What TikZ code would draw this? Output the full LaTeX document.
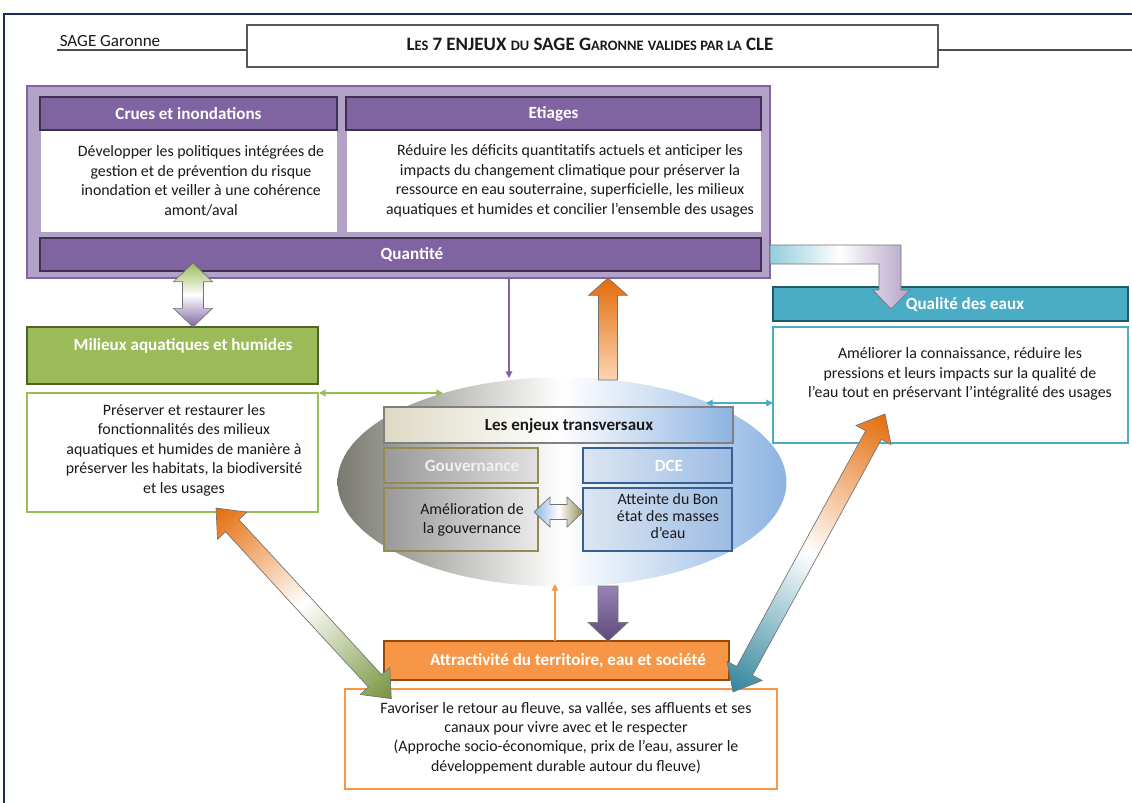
\documentclass[tikz,border=0pt]{standalone}
\usepackage{fontspec}
\setmainfont{Carlito}
\usetikzlibrary{calc,fit,shapes.geometric,arrows.meta}
\definecolor{frameblue}{HTML}{1F2A5C}
\definecolor{purp}{HTML}{8064A2}
\definecolor{purpdark}{HTML}{3F3151}
\definecolor{purplight}{HTML}{B3A2C7}
\definecolor{purpmid}{HTML}{5F497A}
\definecolor{grn}{HTML}{9BBB59}
\definecolor{grndark}{HTML}{4F6228}
\definecolor{grndeep}{HTML}{77933C}
\definecolor{tealq}{HTML}{4BACC6}
\definecolor{tealdark}{HTML}{215968}
\definecolor{tealdeep}{HTML}{31859C}
\definecolor{teallight}{HTML}{93CDDD}
\definecolor{orng}{HTML}{F79646}
\definecolor{orngdark}{HTML}{984807}
\definecolor{orngdeep}{HTML}{E46C0A}
\definecolor{peach}{HTML}{FBD4B4}
\definecolor{txtc}{HTML}{1A1A1A}
\definecolor{olv}{HTML}{948A54}
\definecolor{dceblue}{HTML}{376092}
\definecolor{ltblue}{HTML}{8DB3E2}
\definecolor{tanq}{HTML}{DDD9C3}
\definecolor{ellgray}{HTML}{7A7A72}
\definecolor{dcelight}{HTML}{DCE6F2}
\definecolor{dcemid}{HTML}{9DBCE3}
\newcommand\smc[1]{{\fontsize{10.8}{12}\selectfont #1}}
% double fat arrow: #1 A, #2 B, #3 shaft half, #4 head half, #5 head length, #6 style
\newcommand\fatdarrow[6]{%
  \coordinate (ha) at ($(#1)!#5!(#2)$);
  \coordinate (hb) at ($(#2)!#5!(#1)$);
  \path[#6] (#1) -- ($(ha)!#4!90:(#2)$) -- ($(ha)!#3!90:(#2)$) -- ($(hb)!#3!-90:(#1)$)
    -- ($(hb)!#4!-90:(#1)$) -- (#2) -- ($(hb)!#4!90:(#1)$) -- ($(hb)!#3!90:(#1)$)
    -- ($(ha)!#3!-90:(#2)$) -- ($(ha)!#4!-90:(#2)$) -- cycle;}
% single fat arrow from #1 (tail) to #2 (tip)
\newcommand\fatarrow[6]{%
  \coordinate (hb) at ($(#2)!#5!(#1)$);
  \path[#6] ($(#1)!#3!90:(#2)$) -- ($(hb)!#3!-90:(#1)$) -- ($(hb)!#4!-90:(#1)$) -- (#2)
    -- ($(hb)!#4!90:(#1)$) -- ($(hb)!#3!90:(#1)$) -- ($(#1)!#3!-90:(#2)$) -- cycle;}
\tikzset{
  bx/.style={rectangle, inner sep=0pt, outer sep=0pt},
  body/.style={font=\fontsize{11.9}{14.6}\selectfont, align=center, text=txtc, inner sep=0pt},
  hd/.style={font=\fontsize{12.8}{14}\selectfont\bfseries, text=white, inner sep=0pt},
  fatline/.style={draw=black!55, line width=0.5pt},
  thinarr/.style={line width=0.9pt, -{Triangle[length=5pt,width=5pt]}},
  thindarr/.style={line width=0.9pt, {Triangle[length=5pt,width=5pt]}-{Triangle[length=5pt,width=5pt]}},
}
\begin{document}
\begin{tikzpicture}[x=0.75pt,y=-0.75pt]
\useasboundingbox (0,0) rectangle (1132,803);
\fill[white] (0,0) rectangle (1132,803);
% page frame
\coordinate (pf1) at (4,803);
\coordinate (pf2) at (4,14);
\coordinate (pf3) at (1132,14);
\draw[frameblue, line width=1.6pt] (pf1) -- (pf2) -- (pf3);
% header
\node[bx, draw=black!65, line width=1pt, fit={(247,25) (938,67)}] (tbox) {};
\node[inner sep=0pt, font=\fontsize{14.2}{16}\selectfont\bfseries, text=txtc] (ttl) at (590,44)
  {L\smc{ES} 7 ENJEUX \smc{DU} SAGE G\smc{ARONNE} \smc{VALIDES PAR LA} CLE};
\node[inner sep=0pt, font=\fontsize{12.8}{14}\selectfont, text=txtc] (sage) at (110,41) {SAGE Garonne};
\coordinate (ul1) at (57,50);
\coordinate (ul2) at (1132,50);
\draw[black!70, line width=0.8pt] (ul1) -- (ul1 -| tbox.west);
\draw[black!70, line width=0.8pt] (ul2 -| tbox.east) -- (ul2);
% Quantite group
\node[bx, fill=purplight, draw=purp, line width=1.5pt, fit={(27,86) (770,278)}] (qframe) {};
\node[bx, fill=purp, draw=purpdark, line width=1.5pt, fit={(40,97) (337,130)}] (crueshd) {};
\node[hd] (crueshdt) at (crueshd.center) {Crues et inondations};
\node[bx, fill=white, fit={(41,131) (337,232)}] (cruesbd) {};
\node[body] (cruesbdt) at (201,181) {Développer les politiques intégrées de\\gestion et de prévention du risque\\inondation et veiller à une cohérence\\amont/aval};
\node[bx, fill=purp, draw=purpdark, line width=1.5pt, fit={(346,97) (761,130)}] (etiahd) {};
\node[hd] (etiahdt) at (etiahd.center) {Etiages};
\node[bx, fill=white, fit={(347,131) (761,232)}] (etiabd) {};
\node[body] (etiabdt) at (570,181) {Réduire les déficits quantitatifs actuels et anticiper les\\impacts du changement climatique pour préserver la\\ressource en eau souterraine, superficielle, les milieux\\aquatiques et humides et concilier l’ensemble des usages};
\node[bx, fill=purp, draw=purpdark, line width=1.5pt, fit={(40,238) (761,271)}] (quant) {};
\node[hd] (quantt) at (412,255) {Quantité};
% Milieux
\node[bx, fill=grn, draw=grndark, line width=1.5pt, fit={(27,327) (318,384)}] (milhd) {};
\node[hd] (milhdt) at (183,346) {Milieux aquatiques et humides};
\node[bx, fill=white, draw=grn, line width=1.5pt, fit={(27,393) (318,512)}] (milbd) {};
\node[body] (milbdt) at (184,450) {Préserver et restaurer les\\fonctionnalités des milieux\\aquatiques et humides de manière à\\préserver les habitats, la biodiversité\\et les usages};
% Qualite
\node[bx, fill=tealq, draw=tealdark, line width=1.5pt, fit={(773,287) (1128,321)}] (qualhd) {};
\node[hd] (qualhdt) at (965,305) {Qualité des eaux};
\node[bx, fill=white, draw=tealq, line width=1.5pt, fit={(773,327) (1128,443)}] (qualbd) {};
\node[body] (qualbdt) at (960,374) {Améliorer la connaissance, réduire les\\pressions et leurs impacts sur la qualité de\\l’eau tout en préservant l’intégralité des usages};
% ellipse
\node[ellipse, inner sep=0pt, minimum width=336.75pt, minimum height=157pt,
      left color=ellgray, right color=ltblue, middle color=white] (ell) at (562,482) {};
\node[bx, left color=tanq, right color=ltblue, middle color=white, draw=black!50, line width=1.6pt, fit={(384,407) (733,443)}] (transhd) {};
\node[inner sep=0pt, font=\fontsize{12.8}{14}\selectfont\bfseries, text=txtc] (transhdt) at (569,426) {Les enjeux transversaux};
\node[bx, left color=black!40, right color=black!12, draw=olv, line width=1.6pt, fit={(384,448) (538,483)}] (gouvhd) {};
\node[hd, text=white!94!black] (gouvhdt) at (472,466) {Gouvernance};
\node[bx, left color=black!40, right color=black!8, draw=olv, line width=1.6pt, fit={(384,488) (538,551)}] (gouvbd) {};
\node[body] (gouvbdt) at (472,520) {Amélioration de\\la gouvernance};
\node[bx, left color=dcelight, right color=dcemid, draw=dceblue, line width=1.6pt, fit={(583,448) (732,483)}] (dcehd) {};
\node[hd] (dcehdt) at (669,466) {DCE};
\node[bx, left color=dcelight, right color=dcemid, draw=dceblue, line width=1.6pt, fit={(583,488) (732,551)}] (dcebd) {};
\node[body, font=\fontsize{11.9}{12.8}\selectfont] (dcebdt) at (668,516) {Atteinte du Bon\\état des masses\\d’eau};
% Attractivite
\node[bx, fill=orng, draw=orngdark, line width=1.6pt, fit={(384,641) (729,680)}] (attrhd) {};
\node[hd] (attrhdt) at (568,661) {Attractivité du territoire, eau et société};
\node[bx, fill=white, draw=orng, line width=1.5pt, fit={(345,689) (777,789)}] (favbd) {};
\node[body] (favbdt) at (566,738) {Favoriser le retour au fleuve, sa vallée, ses affluents et ses\\canaux pour vivre avec et le respecter\\(Approche socio-économique, prix de l’eau, assurer le\\développement durable autour du fleuve)};
% thin arrows
\coordinate (pq) at (509,278);
\coordinate (pe) at (509,378);
\draw[thinarr, purp] (pq) -- (pe);
\coordinate (gm) at (319,393);
\coordinate (ge) at (443,393);
\draw[thindarr, grn] (gm) -- (ge);
\coordinate (tq) at (773,403);
\coordinate (te) at (706,403);
\draw[thindarr, tealq] (te) -- (tq);
\coordinate (oa) at (555,641);
\coordinate (oe) at (555,584);
\draw[thinarr, orng] (oa) -- (oe);
% fat arrows
\coordinate (va) at (193,263);
\coordinate (vb) at (193,327);
\fatdarrow{va}{vb}{7.9pt}{14.6pt}{14pt}{fatline, top color=grn, bottom color=purp, middle color=white}
\coordinate (ua) at (608,380);
\coordinate (ub) at (608,278);
\fatarrow{ua}{ub}{7.1pt}{14.6pt}{13pt}{fatline, top color=orngdeep, bottom color=peach}
\coordinate (da) at (608,586);
\coordinate (db) at (608,641);
\fatarrow{da}{db}{7.5pt}{15pt}{14pt}{fatline, top color=purp!80, bottom color=purpmid}
\coordinate (ha1) at (534,512);
\coordinate (hb1) at (583,512);
\fatdarrow{ha1}{hb1}{5.6pt}{11.25pt}{12pt}{fatline, left color=ltblue, right color=olv, middle color=white}
% diagonal double arrows, drawn along a rotated canvas so that the shading follows them
\begin{scope}[transform canvas={shift={(216,508)}, rotate=-47.4}]
  \coordinate (la) at (0,0);
  \coordinate (lb) at (259,0);
  \fatdarrow{la}{lb}{6.75pt}{15pt}{18pt}{fatline, left color=orngdeep, right color=grndeep, middle color=white}
\end{scope}
\begin{scope}[transform canvas={shift={(885,414)}, rotate=-118.67}]
  \coordinate (ra) at (0,0);
  \coordinate (rb) at (316.8,0);
  \fatdarrow{ra}{rb}{6.75pt}{15pt}{18pt}{fatline, left color=orngdeep, right color=tealdeep, middle color=white}
\end{scope}
% elbow arrow
\coordinate (e0) at (770,245);
\coordinate (etip) at (891,309);
\path[fatline, left color=teallight, right color=purplight, middle color=white]
  (e0) -- (901,245) -- (901,290) -- (910,290) -- (etip) -- (873,290) -- (879,290) -- (879,264) -- (770,264) -- cycle;
\end{tikzpicture}
\end{document}
